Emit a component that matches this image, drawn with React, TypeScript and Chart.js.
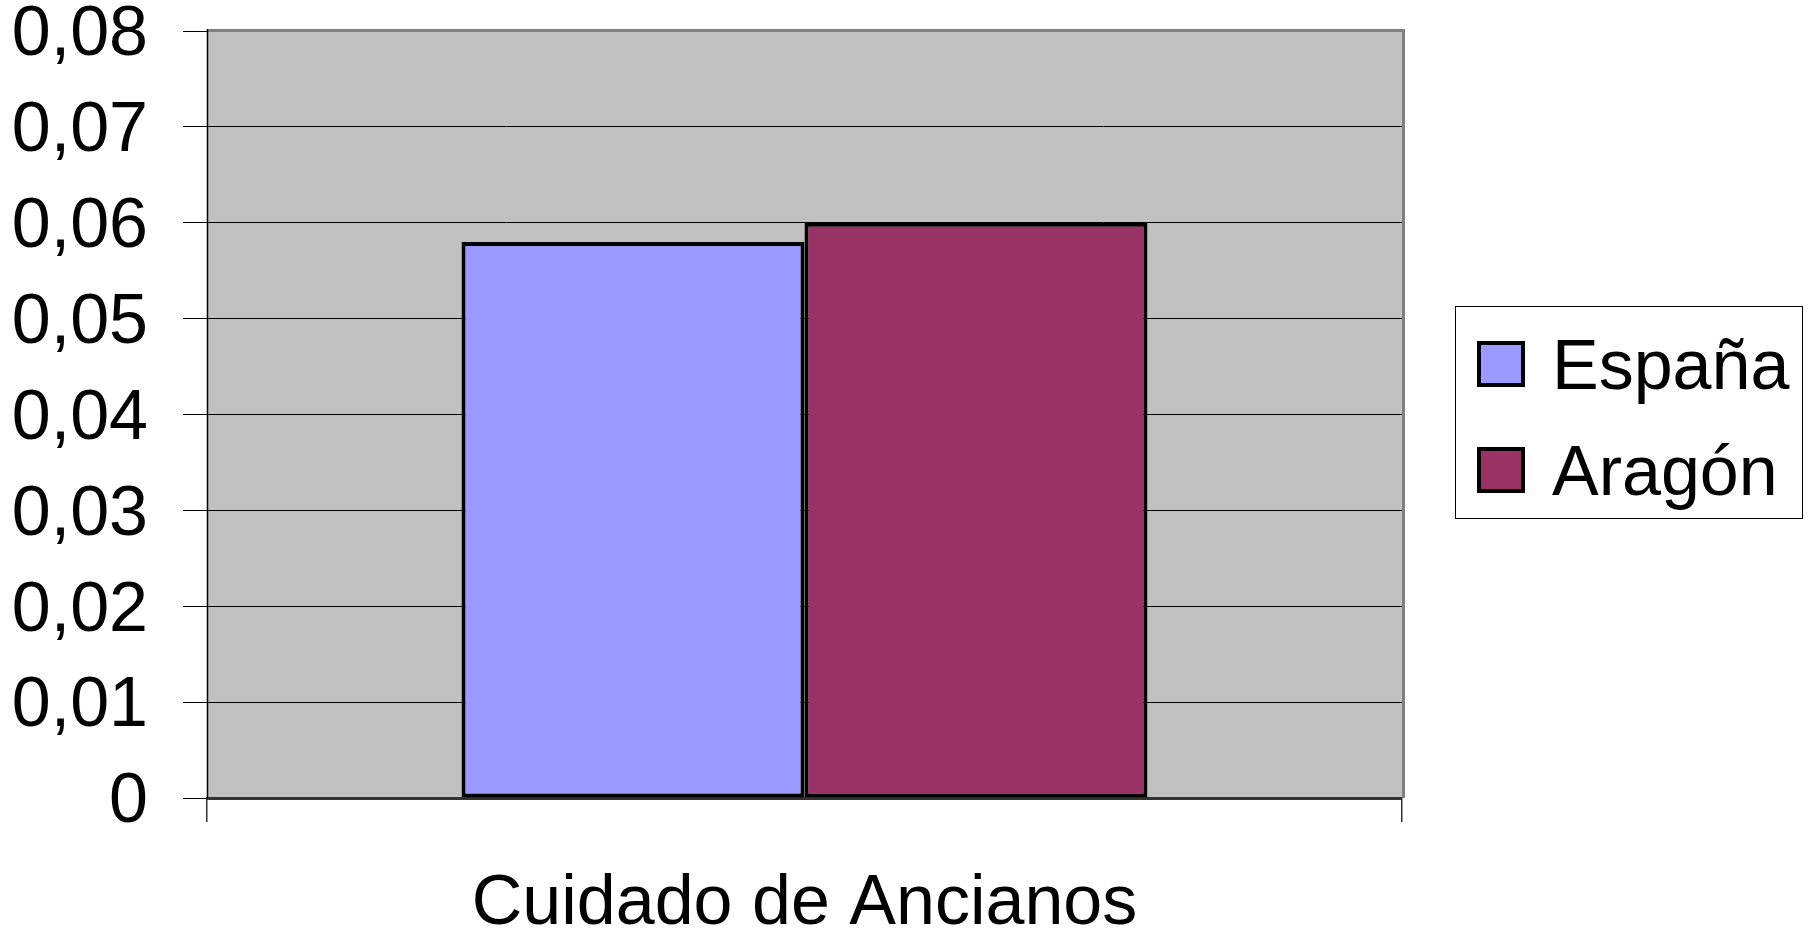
import React, { useEffect, useRef } from "react";
import { Chart, registerables } from "chart.js";

Chart.register(...registerables);

const categories = ["Cuidado de Ancianos"];
const seriesNames = ["España", "Aragón"];
const espanaValues = [0.058];
const aragonValues = [0.06];
const seriesColors = ["#9999FF", "#993366"];
const yMin = 0;
const yMax = 0.08;
const yStep = 0.01;

const FONT = '"Liberation Sans", Arial, Helvetica, sans-serif';

const plotBackground = {
  id: "plotBackground",
  beforeDraw(chart: any) {
    const { ctx, chartArea } = chart;
    const { left, top, right, bottom } = chartArea;
    ctx.save();
    ctx.fillStyle = "#C0C0C0";
    ctx.fillRect(left, top, right - left, bottom - top);
    ctx.restore();
  },
  afterDatasetsDraw(chart: any) {
    const { ctx, chartArea } = chart;
    const { left, top, right, bottom } = chartArea;
    ctx.save();
    ctx.strokeStyle = "#808080";
    ctx.lineWidth = 3;
    ctx.beginPath();
    ctx.moveTo(left, top - 0.5);
    ctx.lineTo(right + 1.5, top - 0.5);
    ctx.lineTo(right + 1.5, bottom);
    ctx.stroke();
    ctx.strokeStyle = "#000000";
    ctx.lineWidth = 1.5;
    ctx.beginPath();
    ctx.moveTo(left + 0.5, top - 2);
    ctx.lineTo(left + 0.5, bottom);
    ctx.stroke();
    ctx.restore();
  },
};

const boxedLegend = {
  id: "boxedLegend",
  afterDraw(chart: any) {
    const { ctx, chartArea } = chart;
    const bx = chartArea.right + 53;
    const by = 306;
    const bw = 348;
    const bh = 213;
    ctx.save();
    ctx.fillStyle = "#FFFFFF";
    ctx.fillRect(bx, by, bw, bh);
    ctx.strokeStyle = "#000000";
    ctx.lineWidth = 1;
    ctx.strokeRect(bx + 0.5, by + 0.5, bw - 1, bh - 1);
    ctx.font = `70px ${FONT}`;
    ctx.textAlign = "left";
    ctx.textBaseline = "alphabetic";
    chart.data.datasets.forEach((ds: any, i: number) => {
      const cy = 364 + i * 106;
      const sx = bx + 22;
      const sw = 48;
      const sh = 46;
      ctx.fillStyle = ds.backgroundColor;
      ctx.fillRect(sx, cy - sh / 2, sw, sh);
      ctx.strokeStyle = "#000000";
      ctx.lineWidth = 4;
      ctx.strokeRect(sx + 2, cy - sh / 2 + 2, sw - 4, sh - 4);
      ctx.fillStyle = "#000000";
      ctx.fillText(ds.label, bx + 97, cy + 25);
    });
    ctx.restore();
  },
};

export default function App() {
  const canvasRef = useRef<HTMLCanvasElement | null>(null);

  useEffect(() => {
    if (!canvasRef.current) return;
    const chart = new Chart(canvasRef.current, {
      type: "bar",
      data: {
        labels: categories,
        datasets: [
          {
            label: seriesNames[0],
            data: espanaValues,
            backgroundColor: seriesColors[0],
            borderColor: "#000000",
            borderWidth: 4,
            borderSkipped: false,
          },
          {
            label: seriesNames[1],
            data: aragonValues,
            backgroundColor: seriesColors[1],
            borderColor: "#000000",
            borderWidth: 4,
            borderSkipped: false,
          },
        ],
      },
      options: {
        responsive: false,
        animation: false,
        events: [],
        layout: { padding: { left: 12, top: 31, right: 408, bottom: 0 } },
        datasets: {
          bar: { categoryPercentage: 0.574, barPercentage: 1.0 },
        },
        plugins: {
          legend: { display: false },
          tooltip: { enabled: false },
          title: { display: false },
        },
        scales: {
          x: {
            grid: {
              display: true,
              offset: true,
              drawOnChartArea: false,
              drawTicks: true,
              tickLength: 24,
              color: "#333333",
              lineWidth: 1.5,
            },
            border: { display: true, color: "#333333", width: 3 },
            ticks: {
              color: "#000000",
              font: { family: FONT, size: 70, lineHeight: 1.2 },
              padding: 41,
              maxRotation: 0,
            },
            afterFit(scale: any) {
              scale.height = 132;
            },
          },
          y: {
            min: yMin,
            max: yMax,
            grid: {
              display: true,
              color: "#000000",
              lineWidth: 1,
              drawTicks: true,
              tickLength: 24,
            },
            border: { display: true, color: "#000000", width: 1 },
            ticks: {
              stepSize: yStep,
              color: "#000000",
              font: { family: FONT, size: 70, lineHeight: 1.2 },
              padding: 35,
              labelOffset: 5,
              callback: (v: any) => {
                const n = Number(v);
                if (Math.abs(n) < 1e-9) return "0";
                return n.toFixed(2).replace(".", ",");
              },
            },
            afterFit(scale: any) {
              scale.width = 195;
              scale.paddingTop = 0;
              scale.paddingBottom = 0;
            },
          },
        },
      },
      plugins: [plotBackground, boxedLegend],
    });
    return () => chart.destroy();
  }, []);

  return (
    <div style={{ position: "fixed", left: 0, top: 0, width: 1810, height: 930, background: "#FFFFFF" }}>
      <canvas ref={canvasRef} width={1810} height={930} style={{ display: "block" }} />
    </div>
  );
}
